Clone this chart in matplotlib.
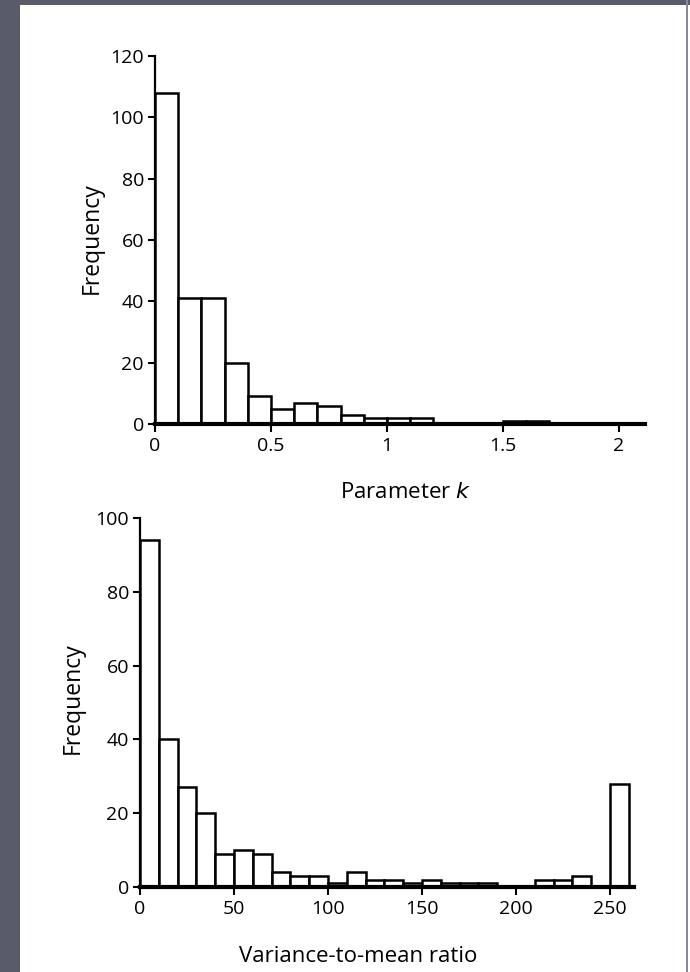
import matplotlib
matplotlib.use("Agg")
import matplotlib.pyplot as plt
from matplotlib.patches import Rectangle

# --- data --------------------------------------------------------------------
K_BIN_WIDTH = 0.1
K_COUNTS = [108, 41, 41, 20, 9, 5, 7, 6, 3, 2, 2, 2, 0, 0, 0, 1, 1, 0, 0, 0, 0]
K_TICKS = [0, 0.5, 1, 1.5, 2]
K_TICK_LABELS = ["0", "0.5", "1", "1.5", "2"]
K_YTICKS = [0, 20, 40, 60, 80, 100, 120]

VMR_BIN_WIDTH = 10
VMR_COUNTS = [94, 40, 27, 20, 9, 10, 9, 4, 3, 3, 1, 4, 2, 2, 1, 2, 1, 1, 1,
              0, 0, 2, 2, 3, 0, 28]
VMR_TICKS = [0, 50, 100, 150, 200, 250]
VMR_YTICKS = [0, 20, 40, 60, 80, 100]

W, H = 690, 972
FONT = ["Open Sans", "DejaVu Sans"]


def fx(px):
    return px / W


def fy(py):
    return 1 - py / H


def panel(fig, left, top, right, bottom, counts, width, xmax, ymax,
          xticks, xlabels, yticks):
    ax = fig.add_axes([fx(left), fy(bottom), fx(right - left), (bottom - top) / H])
    edges = [i * width for i in range(len(counts))]
    ax.bar(edges, counts, width=width, align="edge", facecolor="white",
           edgecolor="black", linewidth=1.8, zorder=3)
    ax.set_xlim(0, xmax)
    ax.set_ylim(0, ymax)
    for side in ("top", "right"):
        ax.spines[side].set_visible(False)
    ax.spines["left"].set_linewidth(1.6)
    ax.spines["bottom"].set_linewidth(3.0)
    ax.spines["bottom"].set_zorder(4)
    ax.set_xticks(xticks)
    ax.set_xticklabels(xlabels)
    ax.set_yticks(yticks)
    ax.tick_params(axis="y", direction="out", length=5, width=1.5,
                   labelsize=14, pad=3)
    ax.tick_params(axis="x", direction="out", length=6, width=1.5,
                   labelsize=14, pad=3)
    for lab in ax.get_xticklabels() + ax.get_yticklabels():
        lab.set_family(FONT)
    ax.patch.set_alpha(0)
    return ax


fig = plt.figure(figsize=(W / 100, H / 100), dpi=100)
fig.patch.set_facecolor("white")

# scanner border
fig.patches.append(Rectangle((0, 0), fx(20), 1, transform=fig.transFigure,
                             facecolor="#5a5b6a", edgecolor="none", zorder=0))
fig.patches.append(Rectangle((0, fy(5)), 1, 5 / H, transform=fig.transFigure,
                             facecolor="#5a5b6a", edgecolor="none", zorder=0))
fig.patches.append(Rectangle((fx(686), 0), 1.5 / W, 1, transform=fig.transFigure,
                             facecolor="#8a8b96", edgecolor="none", zorder=0))

# top: parameter k
ax1 = panel(fig, 155, 56, 645, 424, K_COUNTS, K_BIN_WIDTH, 2.112, 120,
            K_TICKS, K_TICK_LABELS, K_YTICKS)
fig.text(fx(406), fy(492), "Parameter $\\mathit{k}$", ha="center", va="center",
         fontsize=16, family=FONT)
fig.text(fx(92), fy(238), "Frequency", ha="center", va="center", rotation=90,
         fontsize=16.5, family=FONT)

# bottom: variance-to-mean ratio
ax2 = panel(fig, 140, 518, 634, 887, VMR_COUNTS, VMR_BIN_WIDTH, 262.8, 100,
            VMR_TICKS, [str(t) for t in VMR_TICKS], VMR_YTICKS)
fig.text(fx(358), fy(956), "Variance-to-mean ratio", ha="center", va="center",
         fontsize=16, family=FONT)
fig.text(fx(73), fy(698), "Frequency", ha="center", va="center", rotation=90,
         fontsize=16.5, family=FONT)

fig.savefig("out.png", dpi=100)
